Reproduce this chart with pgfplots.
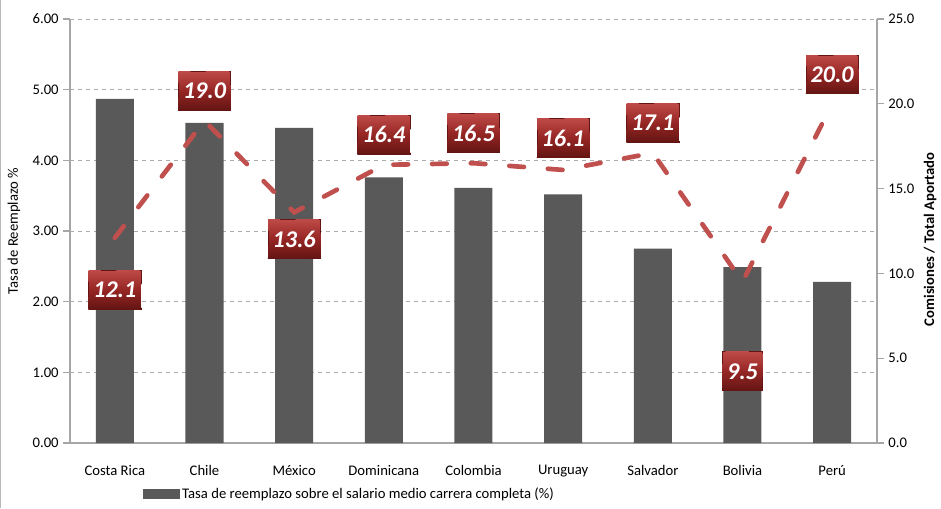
\documentclass[border=0pt]{standalone}
\usepackage{pgfplots}
\pgfplotsset{compat=1.18}
\usepackage{fontspec}
\setmainfont{Carlito}
\definecolor{bargray}{HTML}{595959}
\definecolor{linered}{HTML}{C0504D}
\definecolor{boxtop}{HTML}{BE4A47}
\definecolor{boxmid}{HTML}{952624}
\definecolor{boxbot}{HTML}{641513}
\definecolor{axgray}{HTML}{A6A6A6}
\definecolor{gridgray}{HTML}{ABABAB}
\pgfplotsset{/pgf/number format/assume math mode=true}
\begin{document}
\begin{tikzpicture}
\begin{axis}[
  at={(0,0)}, anchor=south west,
  scale only axis, width=605.25pt, height=318pt,
  xmin=-0.5, xmax=8.5, ymin=0, ymax=6,
  axis x line*=bottom, axis y line*=left,
  axis line style={axgray, line width=0.8pt},
  xtick={0,...,8},
  xticklabels={Costa Rica,Chile,México,Dominicana,Colombia,Uruguay,Salvador,Bolivia,Perú},
  x tick style={draw=none},
  extra x ticks={-0.5,0.5,1.5,2.5,3.5,4.5,5.5,6.5,7.5,8.5},
  extra x tick labels={},
  extra x tick style={tick style={draw=axgray, line width=0.8pt}, major tick length=5pt, tick align=outside, grid=none},
  ytick={0,...,6},
  y tick style={draw=axgray, line width=0.8pt},
  major tick length=5pt, tick align=outside,
  ymajorgrids, grid style={gridgray, dashed, line width=0.6pt},
  yticklabel style={/pgf/number format/.cd, fixed, fixed zerofill, precision=2},
  tick label style={font=\fontsize{11}{13}\selectfont, text=black},
  xticklabel style={yshift=-8pt},
  ylabel={Tasa de Reemplazo \%},
  ylabel style={at={(axis description cs:-0.0694,0.5)}, anchor=center, font=\fontsize{11}{13}\selectfont},
  legend style={draw=none, fill=none, at={(axis description cs:0.09,-0.12)}, anchor=west, inner sep=0pt, font=\fontsize{11}{13}\selectfont},
  legend image code/.code={\fill[bargray] (0pt,-4pt) rectangle (27.5pt,4pt);},
]
\addplot[ybar, bar width=28.5pt, fill=bargray, draw=none] coordinates {
  (0,4.87) (1,4.53) (2,4.46) (3,3.76) (4,3.61) (5,3.52) (6,2.75) (7,2.49) (8,2.28)};
\addlegendentry{Tasa de reemplazo sobre el salario medio carrera completa (\%)}
\end{axis}
\begin{axis}[
  at={(0,0)}, anchor=south west,
  scale only axis, width=605.25pt, height=318pt,
  xmin=-0.5, xmax=8.5, ymin=0, ymax=25,
  axis x line=none, axis y line*=right,
  axis line style={axgray, line width=0.8pt},
  ytick={0,5,...,25},
  y tick style={draw=axgray, line width=0.8pt},
  major tick length=5pt, tick align=outside,
  yticklabel style={/pgf/number format/.cd, fixed, fixed zerofill, precision=1},
  tick label style={font=\fontsize{11}{13}\selectfont, text=black},
  ylabel={Comisiones / Total Aportado},
  ylabel style={at={(axis description cs:1.0657,0.48)}, anchor=center, font=\fontsize{11}{13}\selectfont\bfseries},
]
\addplot[linered, line width=3.5pt, dash pattern=on 11pt off 18pt, line cap=round, mark=none,
  point meta=explicit,
  visualization depends on={value \thisrow{s} \as \lshift},
  nodes near coords={\pgfmathprintnumber[fixed,fixed zerofill,precision=1]{\pgfplotspointmeta}},
  every node near coord/.append style={anchor=center, yshift=\lshift pt,
    font=\fontsize{18}{20}\selectfont\bfseries\itshape, text=white,
    top color=boxtop, bottom color=boxbot, middle color=boxmid,
    draw=boxbot, line width=0.6pt,
    inner xsep=3.5pt, minimum height=29pt},
] table[x=x, y=y, meta=y] {
x y s
0 12.1 -39
1 19.0 22.5
2 13.6 -20
3 16.4 22.5
4 16.5 22.5
5 16.1 24
6 17.1 22.5
7 9.5 -67
8 20.0 22
};
\end{axis}
\draw[axgray!80, line width=0.8pt] (-52.1pt,-48.75pt) -- (-52.1pt,332.25pt);
\pgfresetboundingbox
\path[use as bounding box] (-52.5pt,-48.75pt) rectangle (653.25pt,332.25pt);
\end{tikzpicture}
\end{document}
